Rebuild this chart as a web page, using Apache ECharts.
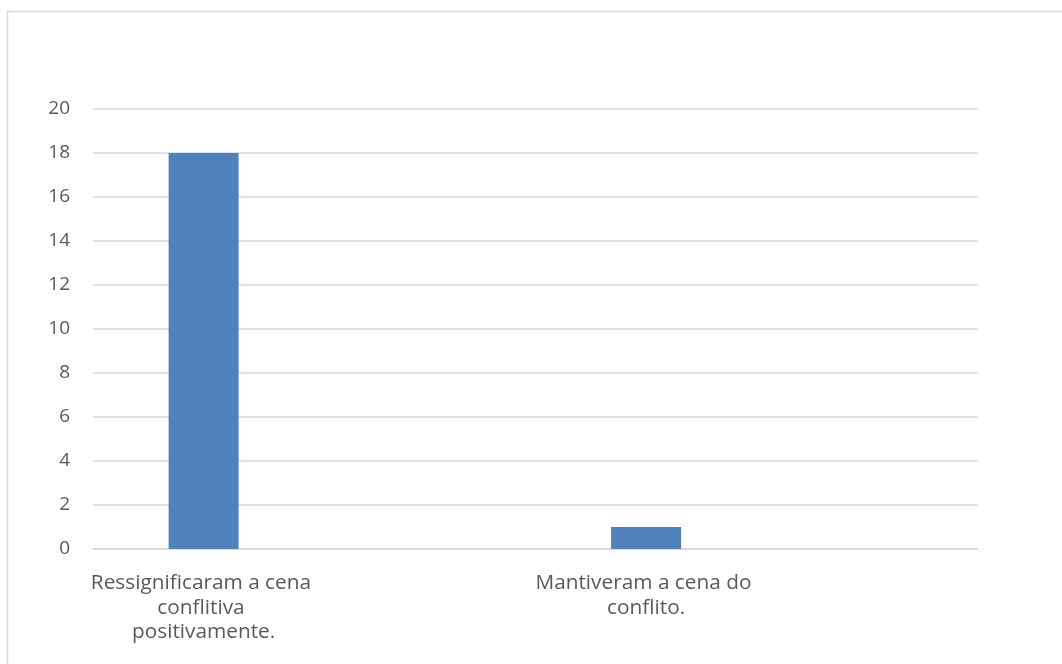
<!DOCTYPE html>
<html>
<head>
<meta charset="utf-8">
<style>
  html, body { margin: 0; padding: 0; background: #ffffff; }
  #chart { width: 1062px; height: 664px; }
</style>
<script src="https://cdn.jsdelivr.net/npm/echarts@6/dist/echarts.min.js"></script>
</head>
<body>
<div id="chart"></div>
<script>
// Responses: how participants dealt with the conflict scene.
// The axis keeps two unnamed, empty slots after each answer.
const categories = ['Ressignificaram a cena conflitiva positivamente.', '', 'Mantiveram a cena do conflito.', ''];
const counts = [18, null, 1, null];
const yTicks = { min: 0, max: 20, interval: 2 };

const textColor = '#595959';
const fontFamily = 'Open Sans, Liberation Sans, sans-serif';

const chart = echarts.init(document.getElementById('chart'), null, { renderer: 'canvas' });
chart.setOption({
  animation: false,
  backgroundColor: '#ffffff',
  graphic: [{
    type: 'rect',
    shape: { x: 7.5, y: 11.5, width: 1080, height: 700 },
    style: { fill: 'none', stroke: '#d9d9d9', lineWidth: 1.5 },
    silent: true
  }],
  grid: { left: 93, right: 84, top: 109, bottom: 115, containLabel: false },
  xAxis: {
    type: 'category',
    data: categories,
    axisLine: { show: true, lineStyle: { color: '#d9d9d9', width: 1.5 } },
    axisTick: { show: false },
    axisLabel: {
      color: textColor,
      fontFamily: fontFamily,
      fontSize: 20.8,
      lineHeight: 24.5,
      margin: 22,
      width: 230,
      overflow: 'break',
      interval: 0
    }
  },
  yAxis: {
    type: 'value',
    min: yTicks.min,
    max: yTicks.max,
    interval: yTicks.interval,
    axisLine: { show: false },
    axisTick: { show: false },
    axisLabel: { color: textColor, fontFamily: fontFamily, fontSize: 19, margin: 23 },
    splitLine: { lineStyle: { color: '#d9d9d9', width: 1.5 } }
  },
  series: [{
    type: 'bar',
    data: counts,
    barWidth: 70,
    itemStyle: { color: '#4f81bd' }
  }]
});
</script>
</body>
</html>
